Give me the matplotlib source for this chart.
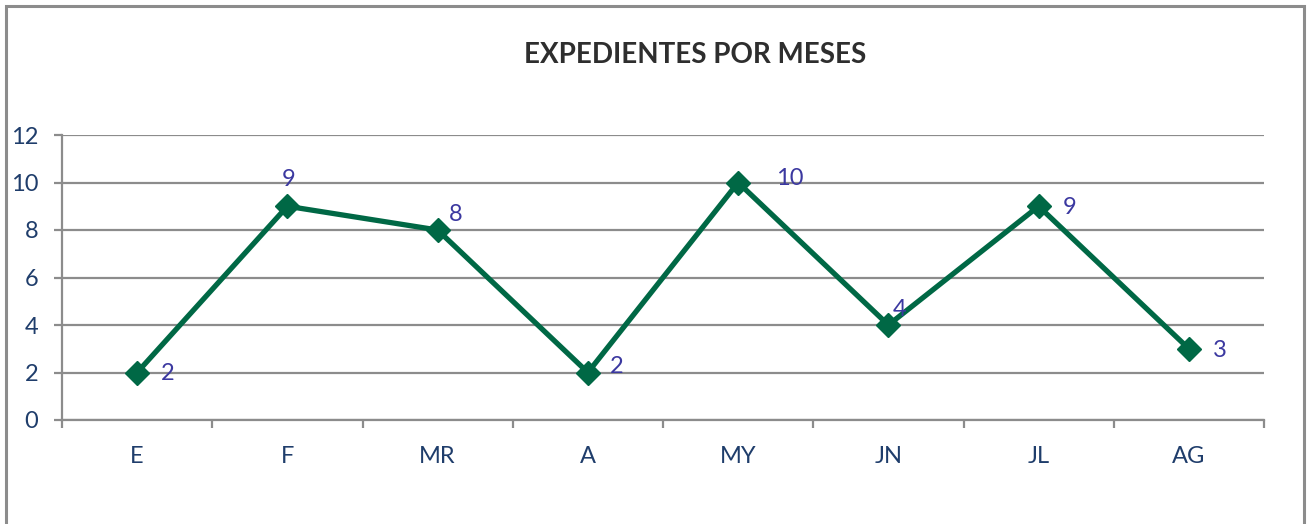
import matplotlib
matplotlib.use("Agg")
import matplotlib.pyplot as plt
from matplotlib.patches import Rectangle
import numpy as np

plt.rcParams['font.family'] = ['Lato', 'DejaVu Sans']

months = ["E", "F", "MR", "A", "MY", "JN", "JL", "AG"]
values = [2, 9, 8, 2, 10, 4, 9, 3]
yticks = [0, 2, 4, 6, 8, 10, 12]
title = "EXPEDIENTES POR MESES"

# label offsets (points) for the data labels
label_offsets = [(22, -1), (1, 19), (13, 11), (21, 4), (37, 3), (8, 11), (22, -1), (22, -1)]

W, H, DPI = 1311, 524, 100
fig = plt.figure(figsize=(W / DPI, H / DPI), dpi=DPI)
fig.patch.set_facecolor("white")

# outer chart border
fig.patches.append(Rectangle((6 / W, -0.05), (1304 - 6) / W, 1.05 - 6 / H,
                             transform=fig.transFigure, fill=False,
                             edgecolor="#8c8c8c", linewidth=2.2))

ax = fig.add_axes([62 / W, 1 - 420 / H, (1264 - 62) / W, (420 - 135) / H])
n = len(months)
x = np.arange(n)
ax.set_xlim(-0.5, n - 0.5)
ax.set_ylim(0, 12)

grid_c = "#8c8c8c"
for s in ["top", "right"]:
    ax.spines[s].set_visible(False)
for s in ["left", "bottom"]:
    ax.spines[s].set_color(grid_c)
    ax.spines[s].set_linewidth(1.6)

ax.set_yticks(yticks)
ax.set_yticklabels([str(v) for v in yticks])
ax.yaxis.grid(True, color=grid_c, linewidth=1.6)
ax.set_axisbelow(True)
ax.tick_params(axis="y", length=6, width=1.6, color=grid_c, pad=11,
               labelsize=17, labelcolor="#1f3d6b")

ax.set_xticks(np.arange(n + 1) - 0.5)
ax.set_xticklabels([])
ax.set_xticks(x, minor=True)
ax.set_xticklabels(months, minor=True)
ax.tick_params(axis="x", which="major", length=6, width=1.6, color=grid_c)
ax.tick_params(axis="x", which="minor", length=0, pad=19,
               labelsize=17, labelcolor="#1f3d6b")

ax.plot(x, values, color="#006845", linewidth=3.8, marker="D",
        markersize=12, markerfacecolor="#006845", markeredgecolor="#006845",
        zorder=3, clip_on=False)

for xi, v, (dx, dy) in zip(x, values, label_offsets):
    ax.annotate(str(v), (xi, v), xytext=(dx, dy), textcoords="offset points",
                ha="center", va="center", fontsize=17, color="#3b38a0", zorder=4)

fig.text(695 / W, 1 - 55 / H, title, ha="center", va="center",
         fontsize=20, fontweight="bold", color="#2e2e2e")

fig.savefig("out.png", dpi=DPI)
